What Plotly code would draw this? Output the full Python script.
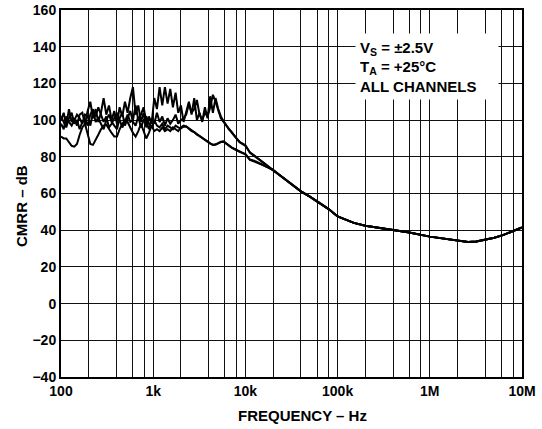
import plotly.graph_objects as go

# Frequencies (Hz)
freq = [100, 107, 114, 122, 130.5, 139.5, 149, 159.4, 170.3, 182,
        194.5, 207.9, 222.2, 237.5, 253.8, 271.3, 290, 309.9, 331.3, 354,
        378.4, 404.5, 432.3, 462, 493.8, 527.8, 564.1, 602.9, 644.4, 688.7,
        736.2, 786.8, 841, 898.9, 960.7, 1027, 1098, 1173, 1254, 1340,
        1432, 1531, 1636, 1749, 1869, 1998, 2135, 2282, 2439, 2607,
        2786, 2978, 3183, 3402, 3636, 3886, 4153, 4439, 4745, 5071,
        5420, 5793, 6192, 6618, 7073, 7560, 8080, 8636,
        10000, 11200, 13000, 15000, 17000,
        20000, 25000, 30000, 40000, 50000, 60000, 70000, 80000,
        100000, 150000, 200000, 300000, 400000, 600000,
        1000000, 1500000, 2000000, 2600000, 3200000, 4000000, 5000000,
        6200000, 8000000, 10000000]

tail = [72.7, 69.0, 66.0, 61.2, 58.3, 55.8, 53.5, 51.5,
        47.5, 44.0, 42.4, 41.0, 40.0, 38.7,
        36.5, 35.2, 34.2, 33.6, 33.8, 34.7, 35.9,
        37.3, 39.5, 41.5]

cmrr_a = [100, 104, 97, 106, 99, 101, 97, 103, 104, 98,
          105, 110, 101, 106, 99, 104, 112, 103, 108, 100,
          105, 98, 107, 102, 110, 104, 112, 118, 103, 108,
          99, 104, 96, 102, 98, 112, 106, 118, 108, 118,
          109, 117, 107, 115, 104, 108, 99, 104, 110, 103,
          112, 100, 104, 99, 107, 101, 113, 104, 112, 106,
          102, 99.5, 97, 95, 93.5, 91.5, 89.5, 88,
          86, 82.5, 80, 77.5, 75.5] + tail

cmrr_b = [91, 90, 90, 88, 86, 85.5, 87, 92, 96, 98,
          92, 87, 86.5, 89, 92, 95, 97, 97.5, 95, 93,
          91, 91, 95, 98, 100, 99, 96, 93, 91, 94,
          98, 94, 90, 93, 97, 94, 95, 94, 96, 94,
          95, 94, 96, 95, 94, 96, 97, 96.5, 95.5, 94,
          93, 92, 91, 90, 89, 88, 87.2, 86.6, 86.8, 87.5,
          88.2, 88.4, 87.3, 86, 85.2, 84.4, 83.6, 82.9,
          81.3, 78.3, 77.2, 75.8, 74.6] + tail

cmrr_c = [98, 95, 102, 99, 97, 100, 103, 101, 98, 103,
          102, 97, 104, 102, 107, 103, 99, 102, 96, 98,
          101, 104, 100, 96, 99, 103, 99, 100, 108, 100,
          103, 107, 99, 95, 101, 98, 104, 99, 102, 97,
          101, 98, 100, 103, 98, 100, 101, 103, 109, 104,
          106, 111, 103, 100, 104, 102, 107, 113.8, 110, 106,
          101, 99, 97, 95, 93.5, 91.5, 89.8, 88.2,
          86.3, 82.2, 79.8, 77.3, 75.3] + tail

cmrr_d = [102, 99, 96, 101, 104, 98, 100, 95, 99, 101,
          97, 103, 106, 99, 101, 98, 95, 100, 103, 99,
          97, 95, 101, 104, 97, 101, 105, 99, 97, 102,
          96, 100, 102, 98, 96, 100, 97, 96, 98, 95,
          97, 96, 95, 97, 96, 95.5, 96.4, 96.5, 95, 94,
          93.5, 92, 91.3, 90.4, 89.4, 88.4, 87.3, 86.4, 86.6, 87.3,
          88, 88.2, 87, 85.8, 85, 84.2, 83.4, 82.7,
          81.5, 78.5, 77.5, 76, 74.8] + tail

series = [cmrr_a, cmrr_b, cmrr_c, cmrr_d]

x_tickvals = [100, 200, 400, 600, 800,
              1000, 2000, 4000, 6000, 8000,
              10000, 20000, 40000, 60000, 80000,
              100000, 200000, 400000, 600000, 800000,
              1000000, 2000000, 4000000, 6000000, 8000000,
              10000000]
x_ticktext = ["100", "", "", "", "",
              "1k", "", "", "", "",
              "10k", "", "", "", "",
              "100k", "", "", "", "",
              "1M", "", "", "", "",
              "10M"]
y_tickvals = [-40, -20, 0, 20, 40, 60, 80, 100, 120, 140, 160]
y_ticktext = ["\u221240", "\u221220", "0", "20", "40", "60", "80",
              "100", "120", "140", "160"]

FONT = "Liberation Sans, Arial, Helvetica, sans-serif"

fig = go.Figure()
for s in series:
    fig.add_trace(go.Scatter(x=freq, y=s, mode="lines",
                             line=dict(color="black", width=2),
                             showlegend=False, hoverinfo="skip"))

fig.update_layout(
    width=542, height=429,
    margin=dict(l=61, r=20, t=10, b=52),
    paper_bgcolor="white", plot_bgcolor="white",
    font=dict(family=FONT, size=14, color="black", weight="bold"),
    xaxis=dict(type="log", range=[2, 7], tickmode="array",
               tickvals=x_tickvals, ticktext=x_ticktext,
               showgrid=True, gridcolor="#111", gridwidth=1.3,
               showline=True, linecolor="black", linewidth=2, mirror=True,
               ticks="", zeroline=False, automargin=False,
               tickfont=dict(family=FONT, size=14, weight="bold")),
    yaxis=dict(range=[-40, 160], tickmode="array",
               tickvals=y_tickvals, ticktext=y_ticktext,
               showgrid=True, gridcolor="#111", gridwidth=1.3,
               showline=True, linecolor="black", linewidth=2, mirror=True,
               ticks="", zeroline=False, automargin=False,
               tickfont=dict(family=FONT, size=14, weight="bold")),
    annotations=[
        dict(xref="paper", yref="paper", x=0.638, y=0.937,
             xanchor="left", yanchor="top", align="left", valign="middle",
             width=134, height=57,
             text="V<sub>S</sub> = \u00b12.5V<br>T<sub>A</sub> = +25\u00b0C<br>ALL CHANNELS",
             showarrow=False, bgcolor="white", borderpad=4,
             font=dict(family=FONT, size=15, color="black", weight="bold")),
        dict(xref="paper", yref="paper", x=0.523, y=-0.106,
             xanchor="center", yanchor="middle",
             text="FREQUENCY \u2013 Hz", showarrow=False,
             font=dict(family=FONT, size=15, color="black", weight="bold")),
        dict(xref="paper", yref="paper", x=-0.0846, y=0.466,
             xanchor="center", yanchor="middle", textangle=-90,
             text="CMRR \u2013 dB", showarrow=False,
             font=dict(family=FONT, size=15, color="black", weight="bold")),
    ],
)

fig.write_html("out.html", config={"displayModeBar": False},
               post_script="document.body.style.margin='0';")
